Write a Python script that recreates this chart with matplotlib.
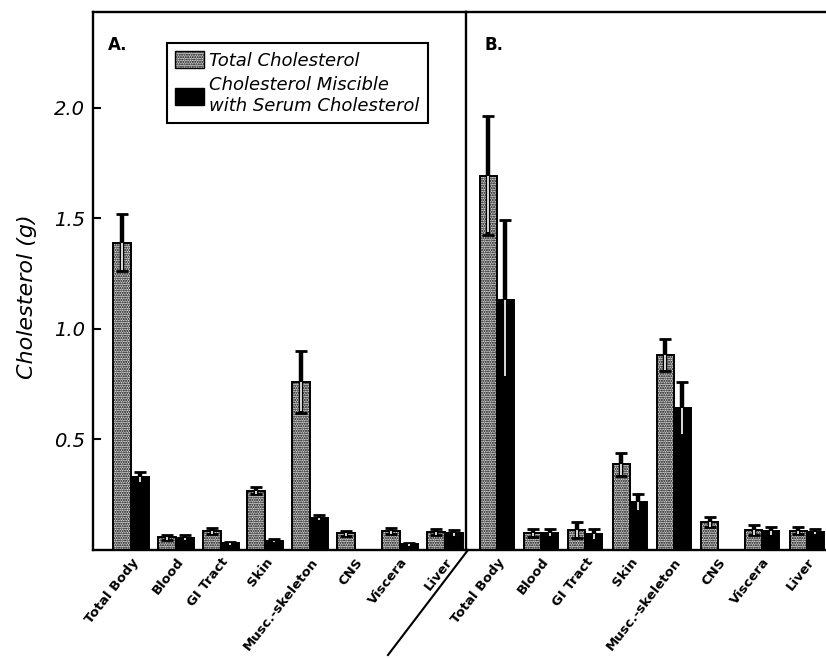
import matplotlib
matplotlib.use('Agg')
import matplotlib.pyplot as plt
import numpy as np
from matplotlib.lines import Line2D
from matplotlib.patches import Patch

# Données (g de cholestérol)
organes = ['Total Body', 'Blood', 'GI Tract', 'Skin', 'Musc.-skeleton', 'CNS', 'Viscera', 'Liver']

total_A = [1.39, 0.057, 0.086, 0.268, 0.762, 0.075, 0.086, 0.080]
err_total_A = [0.13, 0.012, 0.012, 0.015, 0.14, 0.012, 0.015, 0.014]
misc_A = [0.33, 0.056, 0.030, 0.042, 0.146, 0.0, 0.025, 0.075]
err_misc_A = [0.022, 0.010, 0.008, 0.008, 0.012, 0.0, 0.006, 0.014]

total_B = [1.694, 0.078, 0.090, 0.389, 0.882, 0.125, 0.090, 0.087]
err_total_B = [0.27, 0.017, 0.035, 0.052, 0.072, 0.023, 0.022, 0.015]
misc_B = [1.131, 0.078, 0.072, 0.216, 0.641, 0.0, 0.087, 0.083]
err_misc_B = [0.36, 0.017, 0.022, 0.038, 0.12, 0.0, 0.018, 0.012]

yticks = [0.5, 1.0, 1.5, 2.0]

W, H = 826, 658
fig = plt.figure(figsize=(W / 100, H / 100), dpi=100)

def px_axes(x0, x1, y0, y1):
    return fig.add_axes([x0 / W, 1 - y1 / H, (x1 - x0) / W, (y1 - y0) / H])

axA = px_axes(93, 466, 12, 550)
axB = px_axes(466, 826, 12, 550)
axB.patch.set_visible(False)

GRIS = '#d4d4d4'
MOTIF = '.......'


def tracer(ax, total, err_t, misc, err_m, larg, xlim, lettre):
    x = np.arange(len(organes))
    ax.bar(x - larg / 2, total, larg, facecolor=GRIS, edgecolor='black',
           hatch=MOTIF, linewidth=1.4, zorder=2)
    ax.bar(x + larg / 2, misc, larg, facecolor='black', edgecolor='black',
           linewidth=1.4, zorder=2)
    for xs, vals, errs in [(x - larg / 2, total, err_t), (x + larg / 2, misc, err_m)]:
        for xi, v, e in zip(xs, vals, errs):
            if v <= 0:
                continue
            ax.errorbar(xi, v, yerr=e, color='black', elinewidth=3.2, capsize=4.5,
                        capthick=2, zorder=3)
            ax.vlines(xi, v - e * 0.95, v, color='white', linewidth=1.2, zorder=4)
    ax.set_xlim(*xlim)
    ax.set_ylim(0, 2.434)
    ax.set_xticks(x)
    ax.set_xticklabels(organes, rotation=52, ha='right', va='top',
                       rotation_mode='anchor', fontsize=9.5, fontweight='heavy')
    ax.tick_params(axis='x', length=0, pad=4)
    for s in ax.spines.values():
        s.set_linewidth(1.7)
    ax.text(0.04 if lettre == 'A.' else 0.05, 0.955, lettre, transform=ax.transAxes,
            fontsize=12, fontweight='bold', va='top')


tracer(axA, total_A, err_total_A, misc_A, err_misc_A, 0.40, (-0.848, 7.478), 'A.')
tracer(axB, total_B, err_total_B, misc_B, err_misc_B, 0.385, (-0.70, 7.44), 'B.')

axA.set_yticks(yticks)
axA.set_yticklabels([f'{v:.1f}' for v in yticks], fontsize=14, fontstyle='italic')
axA.tick_params(axis='y', direction='in', length=6, width=1.5, pad=6)
axA.set_ylabel('Cholesterol (g)', fontsize=16, fontstyle='italic')
axA.yaxis.set_label_coords(-0.15, 0.47)
axA.set_zorder(2)
axA.patch.set_visible(False)

axB.set_yticks([])
axB.spines['left'].set_visible(False)
axB.spines['right'].set_visible(False)

# Légende
poignees = [Patch(facecolor=GRIS, edgecolor='black', hatch=MOTIF),
            Patch(facecolor='black', edgecolor='black')]
leg = fig.legend(poignees, ['Total Cholesterol', 'Cholesterol Miscible\nwith Serum Cholesterol'],
                 loc='upper left', bbox_to_anchor=(167 / W, 1 - 43 / H), borderaxespad=0,
                 prop={'size': 13, 'style': 'italic'}, fancybox=False,
                 framealpha=1, edgecolor='black', handlelength=1.6, handleheight=1.1,
                 handletextpad=0.3, borderpad=0.45, labelspacing=0.35)
leg.get_frame().set_linewidth(1.5)

# Trait oblique séparant les deux panneaux
fig.add_artist(Line2D([388 / W, 468 / W], [1 - 655 / H, 1 - 550 / H],
                      color='black', linewidth=1.5))

fig.savefig('out.png', dpi=100)
